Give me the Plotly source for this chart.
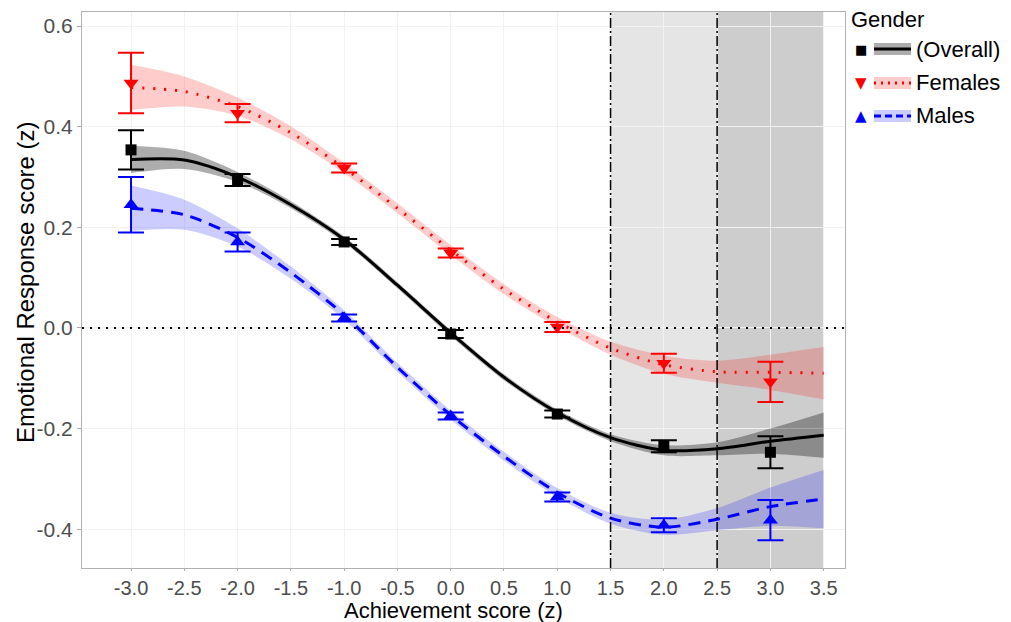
import plotly.graph_objects as go

# ---- data ----
obs_x = [-3, -2, -1, 0, 1, 2, 3]

fem_y = [0.487, 0.427, 0.318, 0.149, 0.002, -0.070, -0.107]
fem_err = [0.060, 0.018, 0.009, 0.009, 0.010, 0.019, 0.040]

ovr_y = [0.354, 0.294, 0.171, -0.012, -0.171, -0.235, -0.247]
ovr_err = [0.039, 0.012, 0.006, 0.008, 0.007, 0.012, 0.032]

mal_y = [0.245, 0.171, 0.020, -0.175, -0.336, -0.392, -0.382]
mal_err = [0.055, 0.019, 0.007, 0.007, 0.009, 0.014, 0.040]

fit_x = [-3.0, -2.5, -2.0, -1.5, -1.0, -0.5, 0.0, 0.5, 1.0, 1.5, 2.0, 2.5, 3.0, 3.5]
fem_fit = [0.478, 0.470, 0.440, 0.388, 0.318, 0.238, 0.155, 0.077, 0.012, -0.040, -0.073, -0.087, -0.088, -0.090]
fem_se = [0.045, 0.030, 0.018, 0.013, 0.010, 0.010, 0.010, 0.010, 0.010, 0.013, 0.018, 0.022, 0.035, 0.052]
ovr_fit = [0.335, 0.334, 0.300, 0.245, 0.176, 0.085, -0.010, -0.098, -0.168, -0.218, -0.243, -0.240, -0.225, -0.213]
ovr_se = [0.027, 0.018, 0.010, 0.007, 0.006, 0.006, 0.006, 0.006, 0.006, 0.007, 0.010, 0.013, 0.025, 0.045]
mal_fit = [0.238, 0.225, 0.180, 0.110, 0.026, -0.078, -0.173, -0.255, -0.327, -0.378, -0.396, -0.380, -0.355, -0.340]
mal_se = [0.045, 0.030, 0.018, 0.012, 0.009, 0.009, 0.009, 0.009, 0.009, 0.011, 0.015, 0.022, 0.038, 0.058]

x_ticks = [-3.0, -2.5, -2.0, -1.5, -1.0, -0.5, 0.0, 0.5, 1.0, 1.5, 2.0, 2.5, 3.0, 3.5]
y_ticks = [-0.4, -0.2, 0.0, 0.2, 0.4, 0.6]
zones = [(1.5, 2.5, "#e5e5e5"), (2.5, 3.5, "#cdcdcd")]
cut_lines = [1.5, 2.5]

# ---- figure ----
W, H = 1011, 622
L, R, T, B = 82, 845, 12, 568

fig = go.Figure()

groups = [
    ("Overall", ovr_fit, ovr_se, ovr_y, ovr_err, "black", "rgba(0,0,0,0.32)", "solid", "square"),
    ("Females", fem_fit, fem_se, fem_y, fem_err, "#ff0000", "rgba(255,0,0,0.2)", "2px,9px", "triangle-down"),
    ("Males", mal_fit, mal_se, mal_y, mal_err, "#0000ff", "rgba(0,0,255,0.2)", "12px,8px", "triangle-up"),
]

for name, fit, se, y, err, col, fill, dash, sym in groups:
    up = [f + s for f, s in zip(fit, se)]
    lo = [f - s for f, s in zip(fit, se)]
    fig.add_trace(go.Scatter(x=fit_x, y=up, mode="lines", line=dict(width=0, shape="spline", smoothing=0.8),
                             showlegend=False, hoverinfo="skip"))
    fig.add_trace(go.Scatter(x=fit_x, y=lo, mode="lines", line=dict(width=0, shape="spline", smoothing=0.8),
                             fill="tonexty", fillcolor=fill, showlegend=False, hoverinfo="skip"))

for name, fit, se, y, err, col, fill, dash, sym in groups:
    fig.add_trace(go.Scatter(x=fit_x, y=fit, mode="lines",
                             line=dict(color=col, width=3, dash=dash, shape="spline", smoothing=0.8),
                             showlegend=False))
    fig.add_trace(go.Scatter(x=obs_x, y=y, mode="markers",
                             marker=dict(symbol=sym, color=col, size=11 if sym == "square" else 13),
                             error_y=dict(type="data", array=err, color=col, thickness=2, width=13),
                             showlegend=False))

shapes = []
for x0, x1, c in zones:
    shapes.append(dict(type="rect", xref="x", yref="paper", x0=x0, x1=x1, y0=0, y1=1,
                       fillcolor=c, line=dict(width=0), layer="below"))
for xv in cut_lines:
    shapes.append(dict(type="line", xref="x", yref="paper", x0=xv, x1=xv, y0=0, y1=1,
                       line=dict(color="black", width=1.5, dash="10px,3px,2px,3px")))
shapes.append(dict(type="line", xref="paper", yref="y", x0=0, x1=1, y0=0, y1=0,
                   line=dict(color="black", width=2, dash="2px,6px")))

# manual legend and axis titles (paper coordinates)
def px(xp):
    return (xp - L) / (R - L)

def py(yp):
    return (B - yp) / (B - T)

annotations = [
    dict(text="Gender", x=px(849), y=py(19), xref="paper", yref="paper",
         xanchor="left", yanchor="middle", showarrow=False,
         font=dict(size=22, color="black", family="Liberation Sans")),
    dict(text="Achievement score (z)", x=px(453), y=py(610), xref="paper", yref="paper",
         xanchor="center", yanchor="middle", showarrow=False,
         font=dict(size=22, color="black", family="Liberation Sans")),
    dict(text="Emotional Response score (z)", x=px(25), y=py(283), xref="paper", yref="paper",
         xanchor="center", yanchor="middle", showarrow=False, textangle=-90,
         font=dict(size=24, color="black", family="Liberation Sans")),
]
leg_rows = [(49, "(Overall)", "black", "rgba(0,0,0,0.32)", "solid", "■", 13),
            (83, "Females", "#ff0000", "rgba(255,0,0,0.2)", "2px,5px", "▼", 15),
            (116, "Males", "#0000ff", "rgba(0,0,255,0.2)", "7px,4px", "▲", 15)]
for yy, lab, col, fill, dash, glyph, gs in leg_rows:
    shapes.append(dict(type="rect", xref="paper", yref="paper", x0=px(874), x1=px(911),
                       y0=py(yy + 6), y1=py(yy - 6), fillcolor=fill, line=dict(width=0)))
    shapes.append(dict(type="line", xref="paper", yref="paper", x0=px(874), x1=px(911),
                       y0=py(yy), y1=py(yy), line=dict(color=col, width=3, dash=dash)))
    annotations.append(dict(text=glyph, x=px(861), y=py(yy), xref="paper", yref="paper",
                            xanchor="center", yanchor="middle", showarrow=False,
                            font=dict(size=gs, color=col, family="DejaVu Sans")))
    annotations.append(dict(text=lab, x=px(914), y=py(yy), xref="paper", yref="paper",
                            xanchor="left", yanchor="middle", showarrow=False,
                            font=dict(size=22, color="black", family="Liberation Sans")))

fig.update_layout(
    width=W, height=H,
    margin=dict(l=L, r=W - R, t=T, b=H - B),
    plot_bgcolor="white", paper_bgcolor="white",
    font=dict(family="Liberation Sans", color="black"),
    shapes=shapes, annotations=annotations,
    showlegend=False,
    xaxis=dict(range=[-3.46, 3.70], tickvals=x_ticks, ticktext=[f"{v:.1f}" for v in x_ticks],
               tickfont=dict(size=20, color="#4d4d4d"), ticks="outside", ticklen=2, tickcolor="#aaaaaa",
               showgrid=True, gridcolor="#f2f2f2", gridwidth=1, zeroline=False, automargin=False,
               showline=True, linecolor="#b0b0b0", mirror=True, linewidth=1),
    yaxis=dict(range=[-0.477, 0.628], tickvals=y_ticks, ticktext=[f"{v:.1f}" for v in y_ticks],
               tickfont=dict(size=21, color="#4d4d4d"), ticks="outside", ticklen=4, tickcolor="#aaaaaa",
               showgrid=True, gridcolor="#f2f2f2", gridwidth=1, zeroline=False, automargin=False,
               showline=True, linecolor="#b0b0b0", mirror=True, linewidth=1),
)

fig.write_html("out.html")
